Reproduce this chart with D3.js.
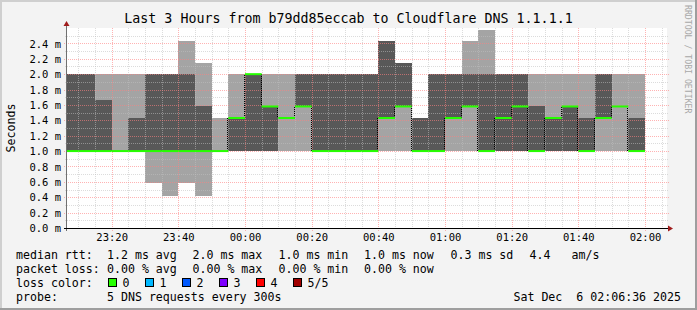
<!DOCTYPE html>
<html lang="en">
<head>
<meta charset="UTF-8">
<title>Last 3 Hours from b79dd85eccab to Cloudflare DNS 1.1.1.1</title>
<script src="https://d3js.org/d3.v7.min.js"></script>
<style>
  body { margin: 0; background: #f3f3f3; }
  svg text { font-family: "DejaVu Sans Mono", monospace; fill: #000; white-space: pre; }
</style>
</head>
<body>
<svg id="chart" width="697" height="310"></svg>
<script>
// 5 minute bins (end time) and the 5 sorted ping rtts of each bin, in ms
const binEnds = ["23:10", "23:15", "23:20", "23:25", "23:30", "23:35", "23:40", "23:45", "23:50", "23:55",
  "00:00", "00:05", "00:10", "00:15", "00:20", "00:25", "00:30", "00:35", "00:40", "00:45",
  "00:50", "00:55", "01:00", "01:05", "01:10", "01:15", "01:20", "01:25", "01:30", "01:35",
  "01:40", "01:45", "01:50", "01:55", "02:00"];
const ping1 = [1, 1, 1, 1, 1, 0.58, 0.42, 0.58, 0.42, 1, 1, 1, 1, 1, 1, 1, 1, 1, 1, 1, 1, 1, 1, 1, 1, 1, 1, 1, 1, 1, 1, 1, 1, 1, 1];
const ping2 = [1, 1, 1, 1, 1, 1, 1, 1, 1, 1, 1, 1, 1, 1.43, 1.58, 1, 1, 1, 1, 1.43, 1.58, 1, 1, 1.43, 1.58, 1, 1, 1, 1, 1, 1, 1, 1.43, 1.58, 1];
const ping3 = [1, 1, 1, 1, 1, 1, 1, 1, 1, 1, 1.43, 2, 1.58, 1.43, 1.58, 1, 1, 1, 1, 1.43, 1.58, 1, 1, 1.43, 1.58, 1, 1.43, 1.58, 1, 1.43, 1.58, 1, 1.43, 1.58, 1];
const ping4 = [2, 2, 1.67, 1, 1.43, 2, 2, 2, 1.58, 1, 1.43, 2, 1.58, 1.43, 2, 2, 2, 2, 2, 2.43, 2.15, 1.43, 2, 2, 2, 2, 2, 2, 1.58, 1.43, 1.58, 1.43, 2, 1.58, 1.43];
const ping5 = [2, 2, 2, 2, 2, 2, 2, 2.43, 2.15, 1.43, 2, 2, 2, 2, 2, 2, 2, 2, 2, 2.43, 2.15, 1.43, 2, 2, 2.43, 2.58, 2, 2, 2, 2, 2, 2, 2, 2, 2];

const yTicks = [0, 0.2, 0.4, 0.6, 0.8, 1.0, 1.2, 1.4, 1.6, 1.8, 2.0, 2.2, 2.4];
const xTickLabels = ["23:20", "23:40", "00:00", "00:20", "00:40", "01:00", "01:20", "01:40", "02:00"];

const rttStats = [["1.2 ms", "avg"], ["2.0 ms", "max"], ["1.0 ms", "min"], ["1.0 ms", "now"], ["0.3 ms", "sd"]];
const amPerS = "4.4";
const lossStats = [["0.00 %", "avg"], ["0.00 %", "max"], ["0.00 %", "min"], ["0.00 %", "now"]];
const lossLabels = ["0", "1", "2", "3", "4", "5/5"];
const lossColors = ["#26ff00", "#00b8ff", "#0059ff", "#7e00ff", "#ff0000", "#a10000"];

const svg = d3.select("#chart");
const W = 697, H = 310;
const pLeft = 67, pRight = 667, pTop = 28, pBottom = 228;

// times before noon belong to the next day
function toDate(s) {
  const [h, m] = s.split(":").map(Number);
  return new Date(2025, 11, h >= 12 ? 5 : 6, h, m, 0);
}
const t0 = new Date(2025, 11, 5, 23, 6, 36);
const t1 = new Date(2025, 11, 6, 2, 6, 36);

const x = d3.scaleTime().domain([t0, t1]).range([pLeft, pRight]);
const y = d3.scaleLinear().domain([0, 2.6]).range([pBottom, pTop]);

// background + frame
svg.append("rect").attr("width", W).attr("height", H).attr("fill", "#f3f3f3");
svg.append("path").attr("d", `M1,${H} V1 H${W}`).attr("stroke", "#cfcfcf").attr("stroke-width", 2).attr("fill", "none");
svg.append("path").attr("d", `M0,${H - 1} H${W - 1} V0`).attr("stroke", "#9e9e9e").attr("stroke-width", 2).attr("fill", "none");
svg.append("rect").attr("x", pLeft).attr("y", pTop).attr("width", pRight - pLeft).attr("height", pBottom - pTop).attr("fill", "#fff");

const bins = binEnds.map((e, i) => {
  const end = toDate(e);
  const start = new Date(Math.max(+end - 300000, +t0));
  return { start, end, p: [ping1[i], ping2[i], ping3[i], ping4[i], ping5[i]] };
});

// smoke: outer pair light, inner pair dark
const smoke = svg.append("g").attr("shape-rendering", "crispEdges");
smoke.selectAll(".outer").data(bins).enter().append("rect")
  .attr("x", d => x(d.start)).attr("width", d => x(d.end) - x(d.start))
  .attr("y", d => y(d.p[4])).attr("height", d => y(d.p[0]) - y(d.p[4]))
  .attr("fill", "#a4a4a4");
smoke.selectAll(".inner").data(bins).enter().append("rect")
  .attr("x", d => x(d.start)).attr("width", d => x(d.end) - x(d.start))
  .attr("y", d => y(d.p[3])).attr("height", d => y(d.p[1]) - y(d.p[3]))
  .attr("fill", "#585858");

// grid
const grid = svg.append("g").attr("shape-rendering", "crispEdges").attr("stroke-dasharray", "1,1");
const minorY = d3.range(1, 26).filter(i => i % 2 === 1).map(i => i / 10);
grid.selectAll(".hmin").data(minorY).enter().append("line")
  .attr("x1", pLeft - 2).attr("x2", pRight + 2)
  .attr("y1", d => Math.round(y(d)) + 0.5).attr("y2", d => Math.round(y(d)) + 0.5)
  .attr("stroke", "rgba(192,192,192,0.55)");
const fiveMin = d3.timeMinute.every(5).range(t0, t1);
grid.selectAll(".vmin").data(fiveMin.filter(d => d.getMinutes() % 20 !== 0)).enter().append("line")
  .attr("x1", d => Math.round(x(d)) + 0.5).attr("x2", d => Math.round(x(d)) + 0.5)
  .attr("y1", pTop).attr("y2", pBottom + 2)
  .attr("stroke", "rgba(192,192,192,0.55)");
grid.selectAll(".hmaj").data(yTicks.slice(1)).enter().append("line")
  .attr("x1", pLeft - 3).attr("x2", pRight + 2)
  .attr("y1", d => Math.round(y(d)) + 0.5).attr("y2", d => Math.round(y(d)) + 0.5)
  .attr("stroke", "rgba(255,128,128,0.6)");
const majors = xTickLabels.map(toDate);
grid.selectAll(".vmaj").data(majors).enter().append("line")
  .attr("x1", d => Math.round(x(d)) + 0.5).attr("x2", d => Math.round(x(d)) + 0.5)
  .attr("y1", pTop).attr("y2", pBottom + 3)
  .attr("stroke", "rgba(255,128,128,0.6)");

// median: dotted risers + loss coloured steps
const risers = bins.slice(1).map((b, i) => ({ t: b.start, a: bins[i].p[2], b: b.p[2] })).filter(r => r.a !== r.b);
svg.append("g").selectAll("line").data(risers).enter().append("line")
  .attr("x1", d => Math.round(x(d.t)) - 0.5).attr("x2", d => Math.round(x(d.t)) - 0.5)
  .attr("y1", d => y(d.a)).attr("y2", d => y(d.b))
  .attr("stroke", "#000").attr("stroke-dasharray", "1,1").attr("shape-rendering", "crispEdges");
svg.append("g").selectAll("line").data(bins).enter().append("line")
  .attr("x1", d => x(d.start)).attr("x2", d => x(d.end))
  .attr("y1", d => y(d.p[2])).attr("y2", d => y(d.p[2]))
  .attr("stroke", lossColors[0]).attr("stroke-width", 2);

// axes
svg.append("line").attr("x1", pLeft - 0.5).attr("x2", pLeft - 0.5).attr("y1", pBottom + 3).attr("y2", pTop - 4)
  .attr("stroke", "#707070").attr("shape-rendering", "crispEdges");
svg.append("line").attr("x1", pLeft - 3).attr("x2", pRight + 2).attr("y1", pBottom + 0.5).attr("y2", pBottom + 0.5)
  .attr("stroke", "#000").attr("shape-rendering", "crispEdges");
svg.append("path").attr("d", `M${pLeft - 3.5},${pTop - 2} L${pLeft + 2.5},${pTop - 2} L${pLeft - 0.5},${pTop - 7} Z`).attr("fill", "#a01c1c");
svg.append("path").attr("d", `M${pRight + 1},${pBottom - 2.5} L${pRight + 1},${pBottom + 3.5} L${pRight + 6},${pBottom + 0.5} Z`).attr("fill", "#a01c1c");

const yAxis = d3.axisLeft(y).tickValues(yTicks).tickSize(0).tickPadding(0)
  .tickFormat(d => d3.format(".1f")(d) + " m");
svg.append("g").attr("transform", `translate(${pLeft - 6},0)`).call(yAxis)
  .call(g => g.select(".domain").remove())
  .selectAll("text").attr("font-size", "10.5px").attr("font-family", "DejaVu Sans Mono").attr("dy", "0.35em");

const xAxis = d3.axisBottom(x).tickValues(majors).tickSize(0).tickPadding(0)
  .tickFormat(d3.timeFormat("%H:%M"));
svg.append("g").attr("transform", `translate(0,${pBottom + 13})`).call(xAxis)
  .call(g => g.select(".domain").remove())
  .selectAll("text").attr("font-size", "10.5px").attr("font-family", "DejaVu Sans Mono").attr("dy", 0);

// titles
svg.append("text").attr("x", 348.5).attr("y", 23).attr("text-anchor", "middle").attr("font-size", "13.3px")
  .text("Last 3 Hours from b79dd85eccab to Cloudflare DNS 1.1.1.1");
svg.append("text").attr("transform", "translate(15,128) rotate(-90)").attr("text-anchor", "middle")
  .attr("font-size", "11.6px").text("Seconds");
svg.append("text").attr("transform", "translate(685,5) rotate(90)").attr("font-size", "8.2px")
  .style("fill", "#a8a8a8").text("RRDTOOL / TOBI OETIKER");

// legend
const lg = svg.append("g").attr("font-size", "11.6px");
const cols = [107, 192.5, 278.5, 364, 450.5];
const rows = [258.5, 272.5, 286.5, 300.5];
lg.append("text").attr("x", 16).attr("y", rows[0]).text("median rtt:");
rttStats.forEach((s, i) => lg.append("text").attr("x", cols[i]).attr("y", rows[0]).text(s[0] + " " + s[1]));
lg.append("text").attr("x", 529.5).attr("y", rows[0]).text(amPerS);
lg.append("text").attr("x", 571.5).attr("y", rows[0]).text("am/s");
lg.append("text").attr("x", 16).attr("y", rows[1]).text("packet loss:");
lossStats.forEach((s, i) => lg.append("text").attr("x", cols[i]).attr("y", rows[1]).text(s[0] + " " + s[1]));
lg.append("text").attr("x", 16).attr("y", rows[2]).text("loss color:");
const swX = [108, 145, 182, 219, 256, 293];
lossLabels.forEach((l, i) => {
  lg.append("rect").attr("x", swX[i] + 0.5).attr("y", 278.5).attr("width", 8).attr("height", 8)
    .attr("fill", lossColors[i]).attr("stroke", "#000").attr("shape-rendering", "crispEdges");
  lg.append("text").attr("x", swX[i] + 14.5).attr("y", rows[2]).text(l);
});
lg.append("text").attr("x", 16).attr("y", rows[3]).text("probe:");
lg.append("text").attr("x", 107).attr("y", rows[3]).text("5 DNS requests every 300s");
lg.append("text").attr("x", 681).attr("y", rows[3]).attr("text-anchor", "end").text("Sat Dec  6 02:06:36 2025");
</script>
</body>
</html>
